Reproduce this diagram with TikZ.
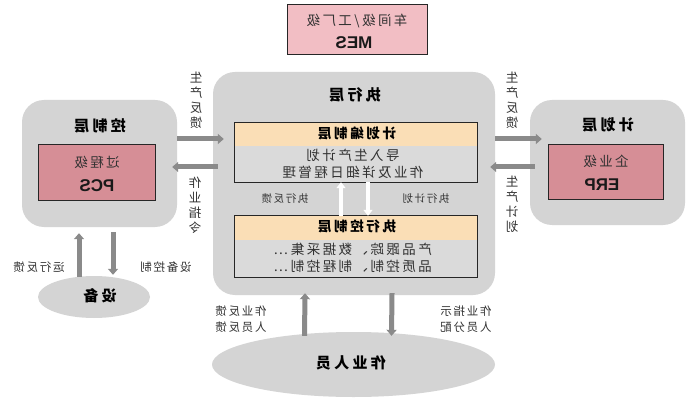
\documentclass[tikz,border=0pt]{standalone}
\usepackage{fontspec}
\usepackage{graphicx}
\setmainfont{Noto Sans CJK SC}
\newfontfamily\latf{Liberation Sans}
\usetikzlibrary{arrows.meta,shapes.geometric}
\newcommand\mr[1]{\reflectbox{\begin{tabular}{@{}c@{}}#1\end{tabular}}}
\definecolor{boxgray}{RGB}{212,212,212}
\definecolor{innergray}{RGB}{218,218,218}
\definecolor{peach}{RGB}{250,222,182}
\definecolor{mespink}{RGB}{242,190,196}
\definecolor{pcspink}{RGB}{214,142,150}
\definecolor{arrgray}{RGB}{138,138,138}
\definecolor{txt}{RGB}{50,50,50}
\tikzset{
  graybox/.style={fill=boxgray, rounded corners=22pt, inner sep=0pt},
  pinkbox/.style={draw=black!85, line width=0.9pt, fill=pcspink, inner sep=0pt},
  subbox/.style={fill=innergray, inner sep=0pt},
  hdr/.style={inner sep=0pt, text=black, font=\fontsize{15}{17}\selectfont\bfseries\addfontfeatures{LetterSpace=22}},
  sub/.style={inner sep=0pt, text=black, font=\fontsize{13.5}{16}\selectfont\bfseries\addfontfeatures{LetterSpace=20}},
  body/.style={inner sep=0pt, text=txt, font=\fontsize{13.5}{17}\selectfont\addfontfeatures{LetterSpace=18}},
  small/.style={inner sep=0pt, text=txt, font=\fontsize{10.5}{12}\selectfont\addfontfeatures{LetterSpace=15}},
  lbl/.style={inner sep=0pt, text=txt, font=\fontsize{11.5}{16}\selectfont\addfontfeatures{LetterSpace=15}},
  vlbl/.style={inner sep=0pt, text=txt, font=\fontsize{12.5}{15}\selectfont},
  latin/.style={inner sep=0pt, text=black!90, font=\latf\fontsize{17}{19}\selectfont\bfseries},
  garrow/.style={draw=arrgray, line width=5pt, -{Triangle[length=6pt,width=10pt]}},
  warrow/.style={draw=white, line width=4pt, -{Triangle[length=6pt,width=9pt]}},
}
\begin{document}
\begin{tikzpicture}[x=1pt,y=-1pt]
\useasboundingbox (0,0) rectangle (700,403);
\fill[white] (0,0) rectangle (700,403);

% MES
\node[draw=black!85, line width=1pt, fill=mespink, minimum width=140pt, minimum height=50pt, inner sep=0pt] (mes) at (357,30) {};
\node[body] (mest) at (357,22) {\mr{车间级/工厂级}};
\node[latin] (mesl) at (354,43) {\reflectbox{MES}};

% execution layer
\node[graybox, minimum width=282pt, minimum height=223pt] (exec) at (354,183.5) {};
\node[hdr] (execl) at (355,97) {\mr{执行层}};

\node[subbox, minimum width=242pt, minimum height=59pt] (plan) at (356,152.5) {};
\fill[peach] (plan.north west) rectangle ([yshift=-23pt]plan.north east);
\draw[black!85, line width=0.9pt] (plan.north west) rectangle (plan.south east);
\node[sub] (planl) at (357,135) {\mr{计划编制层}};
\node[body] (plan1) at (353,157) {\mr{导入生产计划}};
\node[body] (plan2) at (353,174) {\mr{作业及详细日程管理}};

\node[subbox, minimum width=242pt, minimum height=61pt] (ctrl) at (356,246.5) {};
\fill[peach] (ctrl.north west) rectangle ([yshift=-24pt]ctrl.north east);
\draw[black!85, line width=0.9pt] (ctrl.north west) rectangle (ctrl.south east);
\node[sub] (ctrll) at (357,228) {\mr{执行控制层}};
\node[body] (ctrl1) at (353,251) {\mr{产品跟踪、数据采集…}};
\node[body] (ctrl2) at (353,268) {\mr{品质控制、制程控制…}};

\draw[warrow] ([xshift=-15pt]ctrl.north) -- ([xshift=-15pt]plan.south);
\draw[warrow] ([xshift=12pt]plan.south) -- ([xshift=12pt]ctrl.north);
\node[small] (fb) at (285,200) {\mr{执行反馈}};
\node[small] (pl) at (426,200) {\mr{执行计划}};

% control layer (left)
\node[graybox, minimum width=155pt, minimum height=127pt] (ctl) at (99.5,163.5) {};
\node[hdr] (ctll) at (100,128) {\mr{控制层}};
\node[pinkbox, minimum width=117pt, minimum height=56pt] (pcs) at (97,172) {};
\node[body] (pcs1) at (97,164) {\mr{过程级}};
\node[latin] (pcs2) at (97,186) {\reflectbox{PCS}};

% planning layer (right)
\node[graybox, minimum width=155pt, minimum height=125pt] (pln) at (607.5,162.5) {};
\node[hdr] (plnl) at (608,127) {\mr{计划层}};
\node[pinkbox, minimum width=115pt, minimum height=55pt] (erp) at (605.5,171.5) {};
\node[body] (erp1) at (606,163) {\mr{企业级}};
\node[latin] (erp2) at (602,185) {\reflectbox{ERP}};

% arrows left
\draw[garrow] ([yshift=24.5pt]ctl.east) -- ([xshift=11pt,yshift=44.5pt]exec.west);
\draw[garrow] ([xshift=5pt,yshift=16.5pt]exec.west) -- ([xshift=-5pt,yshift=-3.5pt]ctl.east);
\node[vlbl] (v1) at (196,102) {\mr{生\\产\\反\\馈}};
\node[vlbl] (v2) at (195,207) {\mr{作\\业\\指\\令}};

% arrows right
\draw[garrow] ([yshift=44.5pt]exec.east) -- ([xshift=12pt,yshift=23.5pt]pln.west);
\draw[garrow] ([xshift=5pt,yshift=-4.5pt]pln.west) -- ([xshift=-5pt,yshift=16.5pt]exec.east);
\node[vlbl] (v3) at (512,102) {\mr{生\\产\\反\\馈}};
\node[vlbl] (v4) at (512,206) {\mr{生\\产\\计\\划}};

% device
\node[ellipse, fill=boxgray, minimum width=112pt, minimum height=42pt, inner sep=0pt] (dev) at (94,297) {};
\node[hdr] (devl) at (100,298) {\mr{设备}};
\draw[garrow] ([xshift=-15pt,yshift=-1pt]dev.north) -- ([xshift=-20.5pt,yshift=-6pt]ctl.south);
\draw[garrow] ([xshift=13.5pt,yshift=-5pt]ctl.south) -- ([xshift=19pt,yshift=1pt]dev.north);
\node[lbl] (d1) at (39,268) {\mr{运行反馈}};
\node[lbl] (d2) at (166,268) {\mr{设备控制}};

% staff
\node[ellipse, fill=boxgray, minimum width=283pt, minimum height=65pt, inner sep=0pt] (staff) at (353.5,364.5) {};
\node[hdr] (staffl) at (351,365) {\mr{作业人员}};
\draw[garrow] ([xshift=-49pt,yshift=-4pt]staff.north) -- ([xshift=-49pt,yshift=2pt]exec.south);
\draw[garrow] ([xshift=38pt,yshift=2pt]exec.south) -- ([xshift=38pt,yshift=-4pt]staff.north);
\node[lbl] (s1) at (241,320) {\mr{作业反馈\\人员反馈}};
\node[lbl] (s2) at (466,320) {\mr{作业指示\\人员分配}};
\end{tikzpicture}
\end{document}
